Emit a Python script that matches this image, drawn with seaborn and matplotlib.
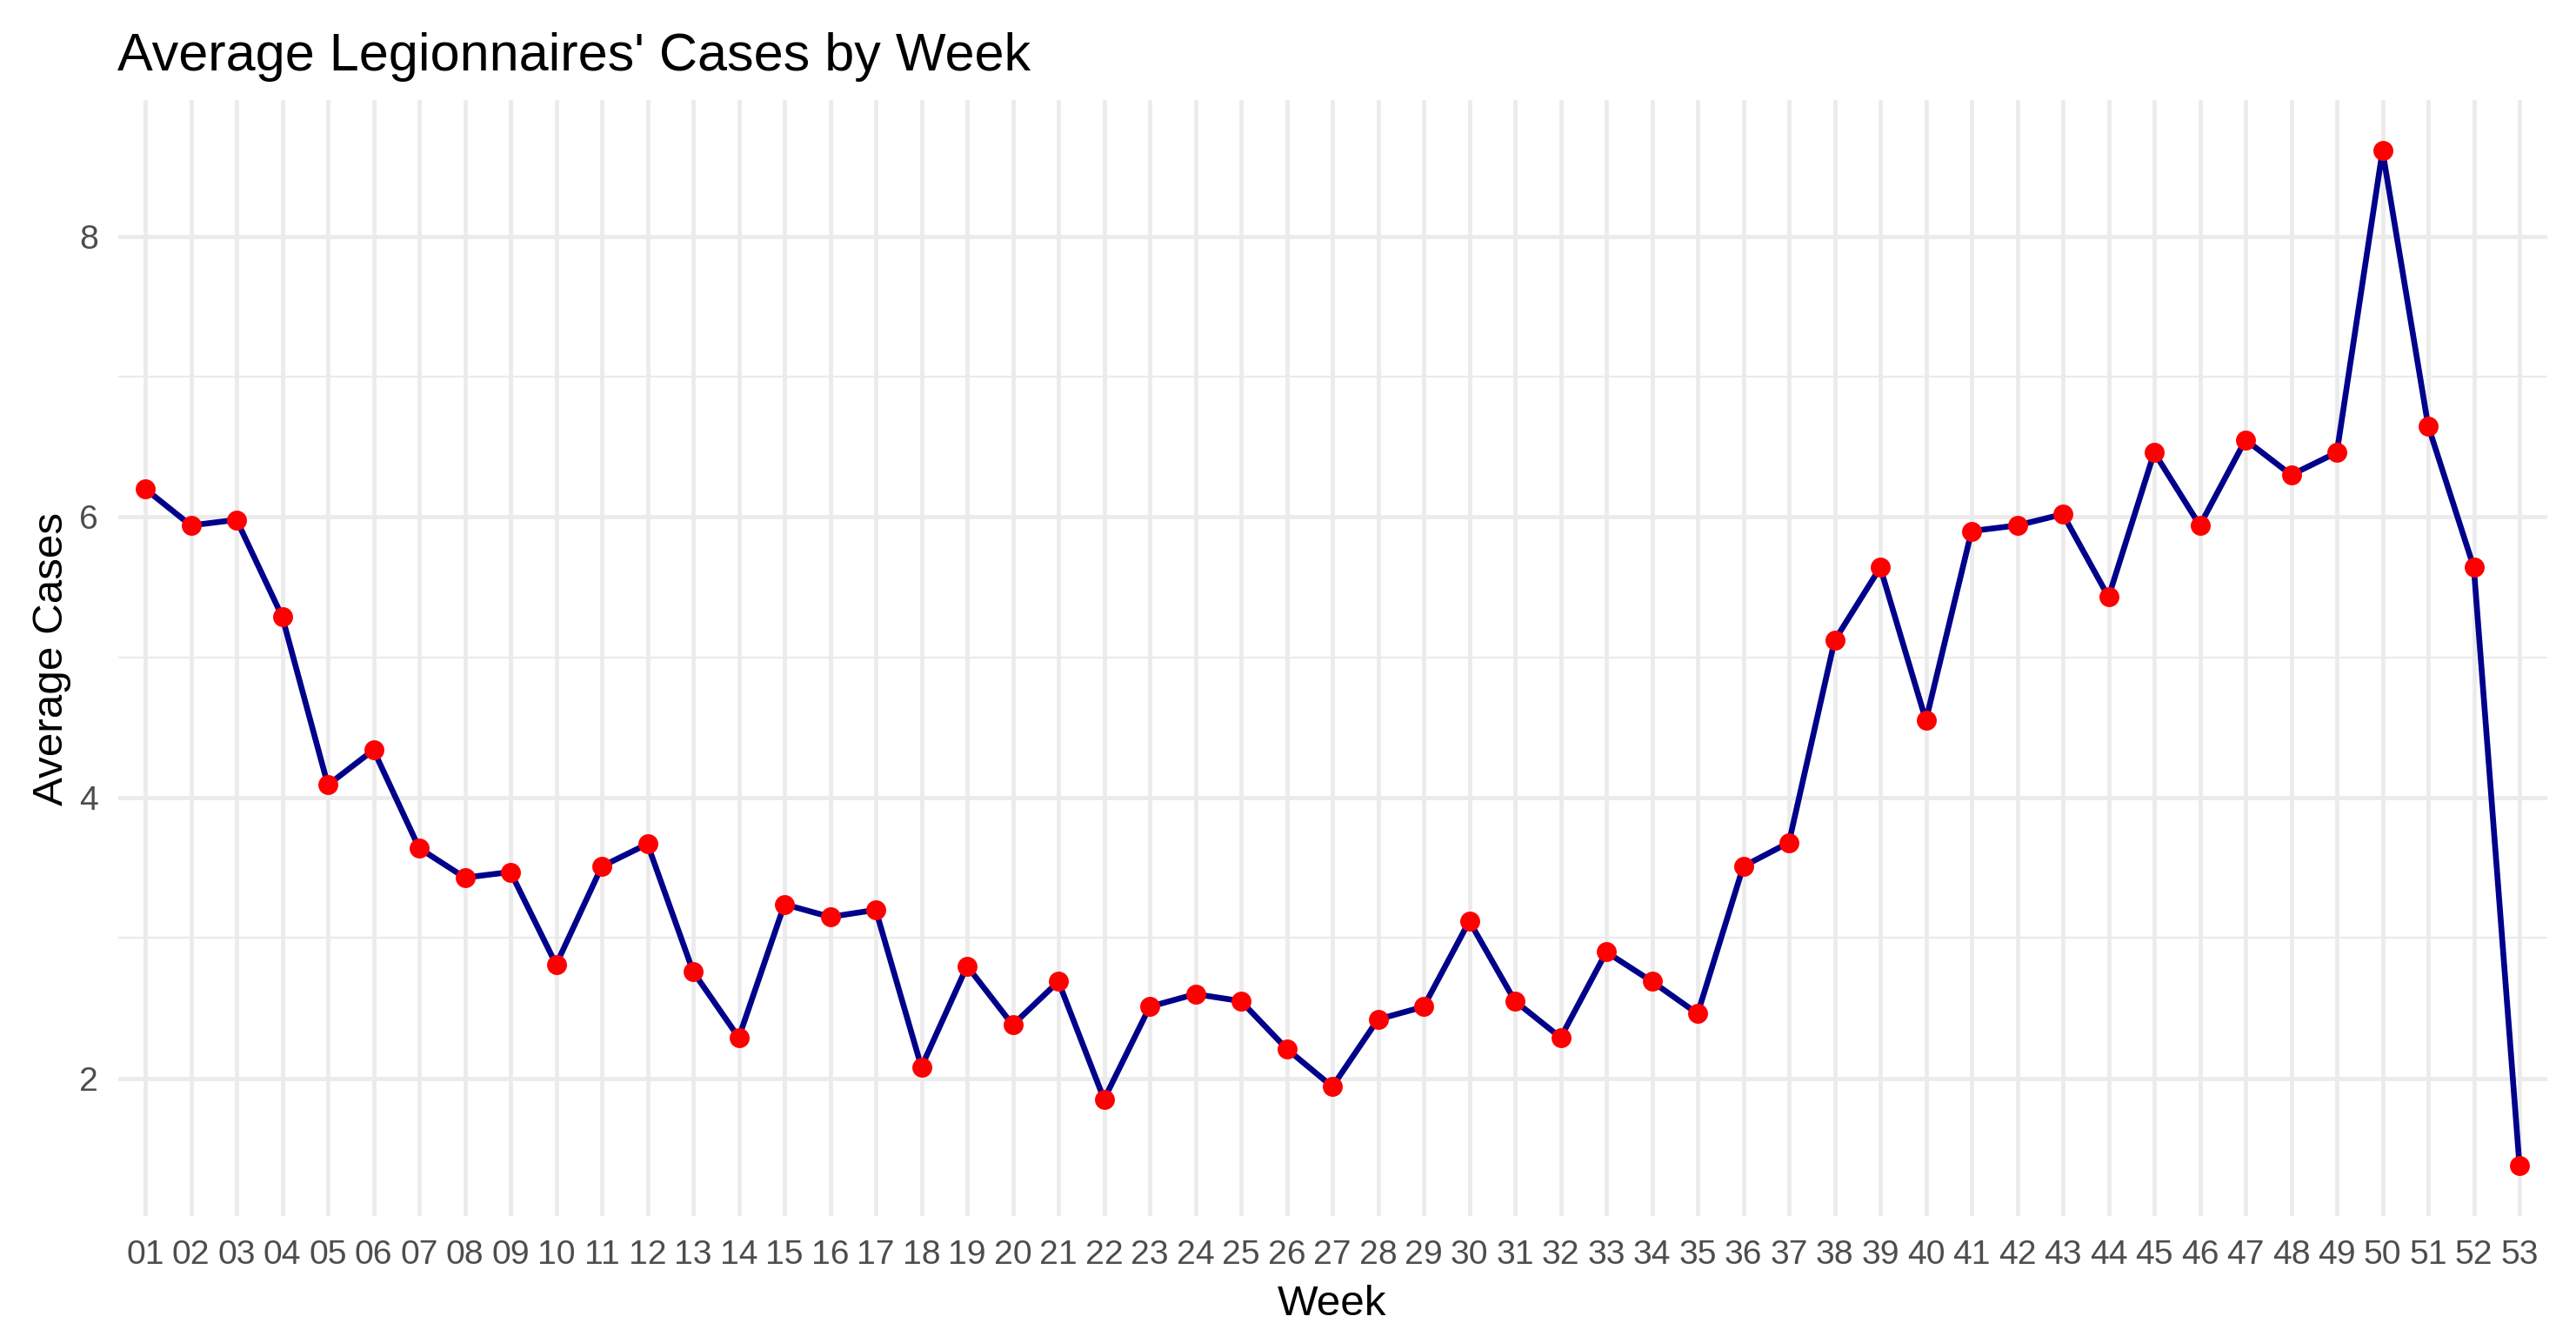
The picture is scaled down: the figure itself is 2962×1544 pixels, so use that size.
import matplotlib
matplotlib.use("Agg")
import matplotlib.pyplot as plt
from matplotlib.ticker import MultipleLocator
import seaborn as sns
import pandas as pd

# ---- data ----
weeks = [f"{i:02d}" for i in range(1, 54)]
avg_cases = [
    6.20, 5.94, 5.98, 5.29, 4.09, 4.34, 3.64, 3.43, 3.47, 2.81,
    3.51, 3.67, 2.76, 2.29, 3.24, 3.15, 3.20, 2.08, 2.80, 2.38,
    2.69, 1.85, 2.51, 2.60, 2.55, 2.21, 1.94, 2.42, 2.51, 3.12,
    2.55, 2.29, 2.90, 2.69, 2.46, 3.51, 3.68, 5.12, 5.64, 4.55,
    5.90, 5.94, 6.02, 5.43, 6.46, 5.94, 6.55, 6.30, 6.46, 8.61,
    6.65, 5.64, 1.38,
]
y_ticks = [2, 4, 6, 8]
title_text = "Average Legionnaires' Cases by Week"
x_label = "Week"
y_label = "Average Cases"

df = pd.DataFrame({"Week": weeks, "Average Cases": avg_cases})

sns.set_theme(style="whitegrid")
plt.rcParams["font.family"] = ["Liberation Sans", "DejaVu Sans"]

W, H, DPI = 2962, 1544, 200
fig = plt.figure(figsize=(W / DPI, H / DPI), dpi=DPI, facecolor="white")
left_px, right_px, top_px, bottom_px = 135.5, 2928.5, 115, 1398
ax = fig.add_axes([left_px / W, 1 - bottom_px / H,
                   (right_px - left_px) / W, (bottom_px - top_px) / H])
ax.set_facecolor("white")

sns.lineplot(data=df, x="Week", y="Average Cases", color="#00008B",
             linewidth=2.4, sort=False, ax=ax, zorder=2)
sns.scatterplot(data=df, x="Week", y="Average Cases", color="#FF0000",
                s=68, linewidth=0, ax=ax, zorder=3)

# limits like ggplot expansion
n = len(weeks)
ax.set_xlim(-0.6, n - 1 + 0.6)
lo, hi = min(avg_cases), max(avg_cases)
pad = 0.05 * (hi - lo)
ax.set_ylim(lo - pad, hi + pad)

ax.set_yticks(y_ticks)
ax.yaxis.set_minor_locator(MultipleLocator(1))

grid_col = "#EBEBEB"
ax.set_axisbelow(True)
ax.grid(which="major", axis="both", color=grid_col, linewidth=1.7)
ax.grid(which="minor", axis="y", color=grid_col, linewidth=0.85)
ax.grid(which="minor", axis="x", visible=False)
for s in ax.spines.values():
    s.set_visible(False)

ax.tick_params(axis="x", which="both", length=0, pad=9.7,
               labelsize=14.1, labelcolor="#4D4D4D")
ax.tick_params(axis="y", which="both", length=0, pad=8.1,
               labelsize=14.1, labelcolor="#4D4D4D")
ax.tick_params(axis="y", which="minor", labelleft=False)

# axis titles
ax.set_xlabel(x_label, fontsize=17.8, color="black")
ax.xaxis.label.set_va("baseline")
ax.xaxis.set_label_coords(1532 / W, (H - 1512) / H, transform=fig.transFigure)
ax.set_ylabel(y_label, fontsize=17.8, color="black")
ax.yaxis.label.set_va("baseline")
ax.yaxis.set_label_coords(72 / W, (H - 757) / H, transform=fig.transFigure)

t = ax.set_title(title_text, loc="left", fontsize=22.0, color="black", y=1.0)
t.set_transform(fig.transFigure)
t.set_position((135 / W, 1 - 81 / H))
t.set_va("baseline")
t.set_ha("left")

fig.savefig("out.png", dpi=DPI, facecolor="white")
